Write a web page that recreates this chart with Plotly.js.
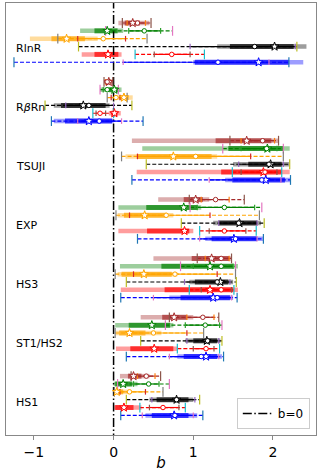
<!DOCTYPE html>
<html>
<head>
<meta charset="utf-8">
<script src="https://cdn.plot.ly/plotly-3.0.1.min.js"></script>
<style>html,body{margin:0;padding:0;background:#fff}#chart{width:320px;height:472px}</style>
</head>
<body>
<div id="chart"></div>
<script>
// groups top to bottom, each has one row per colour (same order as colors)
const groups = ['RlnR', 'R<i>β</i>Rn', 'TSUJI', 'EXP', 'HS3', 'ST1/HS2', 'HS1'];
const colors = ['#a52a2a', '#008000', '#ffa500', '#000000', '#ff0000', '#0000ff'];

// star estimate + shaded bands (light = wide, dark = narrow)
const starMid = [
  [0.24, -0.08, -0.59, 2.02, -0.07, 1.82],
  [-0.06, 0.01, 0.13, -0.38, 0.01, -0.31],
  [1.67, 1.93, 0.75, 1.97, 1.88, 1.91],
  [1.03, 0.88, 0.39, 1.58, 0.89, 1.51],
  [1.23, 1.21, 0.38, 1.34, 1.21, 1.25],
  [0.76, 0.48, 0.20, 1.17, 0.51, 1.16],
  [0.25, 0.12, 0.04, 0.79, 0.13, 0.76]
];
const starLo95 = [
  [0.06, -0.42, -1.05, 1.30, -0.40, 1.00],
  [-0.12, -0.17, 0.00, -0.75, -0.06, -0.75],
  [0.23, 0.36, 0.15, 1.50, 0.29, 1.40],
  [0.56, 0.06, 0.05, 1.25, 0.06, 1.15],
  [0.50, 0.08, 0.05, 0.95, 0.09, 0.70],
  [0.34, 0.02, 0.03, 0.90, 0.03, 0.80],
  [0.08, 0.00, 0.00, 0.45, 0.00, 0.40]
];
const starHi95 = [
  [0.45, 0.12, -0.20, 2.42, 0.10, 2.38],
  [0.00, 0.10, 0.24, -0.05, 0.09, 0.00],
  [2.07, 2.21, 1.30, 2.20, 2.21, 2.22],
  [1.20, 1.10, 0.75, 1.85, 1.00, 1.88],
  [1.48, 1.56, 0.80, 1.50, 1.56, 1.50],
  [1.00, 0.75, 0.60, 1.34, 0.80, 1.36],
  [0.45, 0.30, 0.20, 1.00, 0.35, 1.05]
];
const starLo68 = [
  [0.14, -0.24, -0.78, 1.46, -0.24, 1.02],
  [-0.09, -0.06, 0.08, -0.66, -0.03, -0.61],
  [1.28, 1.44, 0.29, 1.69, 1.35, 1.49],
  [0.88, 0.41, 0.13, 1.32, 0.42, 1.23],
  [0.98, 0.60, 0.10, 1.02, 0.64, 0.84],
  [0.61, 0.19, 0.07, 1.00, 0.21, 0.88],
  [0.18, 0.02, 0.01, 0.54, 0.02, 0.48]
];
const starHi68 = [
  [0.33, 0.05, -0.36, 2.26, 0.06, 2.20],
  [-0.03, 0.07, 0.19, -0.10, 0.05, -0.02],
  [1.98, 2.13, 1.23, 2.11, 2.11, 2.15],
  [1.12, 1.05, 0.67, 1.80, 0.95, 1.80],
  [1.45, 1.50, 0.73, 1.44, 1.50, 1.46],
  [0.92, 0.71, 0.40, 1.30, 0.75, 1.30],
  [0.35, 0.23, 0.12, 0.94, 0.25, 0.94]
];

// circle estimate + error bars (dashed = wide, solid = narrow)
const circMid = [
  [0.30, 0.385, -0.13, 1.77, 0.73, 1.31],
  [-0.08, -0.08, 0.03, -0.31, -0.17, -0.18],
  [1.87, 1.92, 1.03, 1.95, 1.90, 1.86],
  [1.28, 1.39, 0.66, 1.57, 1.39, 1.53],
  [1.35, 1.35, 0.77, 1.30, 1.35, 1.30],
  [1.12, 1.15, 0.50, 1.18, 1.16, 1.10],
  [0.41, 0.44, 0.20, 0.79, 0.62, 0.77]
];
const circLo95 = [
  [0.11, -0.10, -0.70, -0.44, 0.27, -1.25],
  [-0.12, -0.17, -0.08, -0.86, -0.26, -0.78],
  [1.46, 1.37, 0.10, 0.41, 1.49, 0.23],
  [0.95, 0.96, 0.03, 0.85, 1.08, 0.30],
  [1.05, 0.84, 0.02, 0.16, 0.95, 0.09],
  [0.70, 0.65, 0.02, 0.34, 0.80, 0.16],
  [0.22, 0.05, 0.01, 0.16, 0.33, 0.09]
];
const circHi95 = [
  [0.47, 0.74, 0.42, 2.30, 1.14, 2.20],
  [-0.01, 0.06, 0.17, 0.23, 0.00, 0.37],
  [2.07, 2.13, 2.13, 2.21, 2.11, 2.22],
  [1.64, 1.86, 1.83, 1.89, 1.79, 1.88],
  [1.48, 1.53, 1.53, 1.54, 1.51, 1.55],
  [1.32, 1.36, 1.13, 1.36, 1.33, 1.38],
  [0.59, 0.70, 0.62, 1.08, 0.90, 1.12]
];
const circLo68 = [
  [0.17, 0.19, -0.45, 0.96, 0.51, 0.12],
  [-0.10, -0.13, -0.03, -0.60, -0.22, -0.45],
  [1.60, 1.60, 0.30, 1.57, 1.60, 1.20],
  [1.10, 1.05, 0.20, 1.32, 1.20, 1.08],
  [1.15, 1.00, 0.25, 0.89, 1.10, 0.50],
  [0.92, 0.90, 0.20, 0.92, 1.00, 0.70],
  [0.30, 0.25, 0.08, 0.48, 0.45, 0.36]
];
const circHi68 = [
  [0.40, 0.59, 0.15, 2.28, 0.96, 1.95],
  [-0.05, 0.00, 0.08, 0.00, -0.10, 0.10],
  [2.02, 2.05, 1.72, 2.13, 2.05, 2.10],
  [1.45, 1.77, 1.21, 1.80, 1.66, 1.80],
  [1.45, 1.50, 1.30, 1.46, 1.48, 1.48],
  [1.26, 1.33, 0.92, 1.32, 1.26, 1.32],
  [0.52, 0.57, 0.40, 1.02, 0.82, 1.00]
];

const GAP = 7.5; // rows between group starts
function rowY(g, r){ return g * GAP + r; }

function segs(lo, hi, ci){
  const x = [], y = [];
  groups.forEach((_, g) => { x.push(lo[g][ci], hi[g][ci], null); y.push(rowY(g, ci), rowY(g, ci), null); });
  return {x, y};
}
function pts(arrs, ci){
  const x = [], y = [];
  arrs.forEach(a => groups.forEach((_, g) => { x.push(a[g][ci]); y.push(rowY(g, ci)); }));
  return {x, y};
}

const light = [], dark = [], dashed = [], solid = [], caps = [], ticks = [], stars = [], circs = [];
colors.forEach((col, ci) => {
  light.push(Object.assign(segs(starLo95, starHi95, ci), {mode:'lines', line:{color:col, width:4.5}, opacity:0.38, showlegend:false, hoverinfo:'skip'}));
  dark.push(Object.assign(segs(starLo68, starHi68, ci), {mode:'lines', line:{color:col, width:5}, opacity:0.7, showlegend:false, hoverinfo:'skip'}));
  dashed.push(Object.assign(segs(circLo95, circHi95, ci), {mode:'lines', line:{color:col, width:1.2, dash:'4px,2px'}, showlegend:false}));
  solid.push(Object.assign(segs(circLo68, circHi68, ci), {mode:'lines', line:{color:col, width:1.2}, showlegend:false}));
  caps.push(Object.assign(pts([circLo95, circHi95], ci), {mode:'markers', marker:{symbol:'line-ns-open', size:7, line:{color:col, width:1.2}}, showlegend:false}));
  ticks.push(Object.assign(pts([circLo68, circHi68], ci), {mode:'markers', marker:{symbol:'line-ns-open', size:4, line:{color:col, width:1.2}}, showlegend:false}));
  stars.push(Object.assign(pts([starMid], ci), {mode:'markers', marker:{symbol:'star', size:6.5, color:'white', line:{color:col, width:1}}, showlegend:false}));
  circs.push(Object.assign(pts([circMid], ci), {mode:'markers', marker:{symbol:'circle', size:4.5, color:'white', line:{color:col, width:1}}, showlegend:false}));
});

const zeroLine = {x:[0, 0], y:[-3, 53], mode:'lines', name:'b=0', line:{color:'black', width:1.5, dash:'9px,2.5px,1.5px,2.5px'}};

const data = [].concat(light, dark, [zeroLine], dashed, solid, caps, ticks, stars, circs);

const layout = {
  width:320, height:472,
  margin:{l:6, r:4, t:3, b:37},
  paper_bgcolor:'white', plot_bgcolor:'white',
  font:{family:'DejaVu Sans, sans-serif', color:'black'},
  xaxis:{range:[-1.35, 2.54], tickvals:[-1, 0, 1, 2], ticks:'outside', ticklen:4, tickcolor:'#888',
    showline:true, mirror:true, linecolor:'#888', linewidth:1, showgrid:false, zeroline:false,
    tickfont:{size:14}, title:{text:'<i>b</i>', font:{size:15}, standoff:4}},
  yaxis:{range:[52.5, -2.55], showticklabels:false, ticks:'', showline:true, mirror:true,
    linecolor:'#888', linewidth:1, showgrid:false, zeroline:false},
  showlegend:true,
  legend:{x:0.98, y:0.014, xanchor:'right', yanchor:'bottom', bordercolor:'#ccc', borderwidth:1,
    bgcolor:'white', font:{size:12}},
  annotations: groups.map((g, i) => ({x:-1.25, y:i * GAP + 3.3, xref:'x', yref:'y', text:g,
    showarrow:false, xanchor:'left', yanchor:'middle', font:{size:11}}))
};

Plotly.newPlot('chart', data, layout, {displayModeBar:false, staticPlot:true});
</script>
</body>
</html>
